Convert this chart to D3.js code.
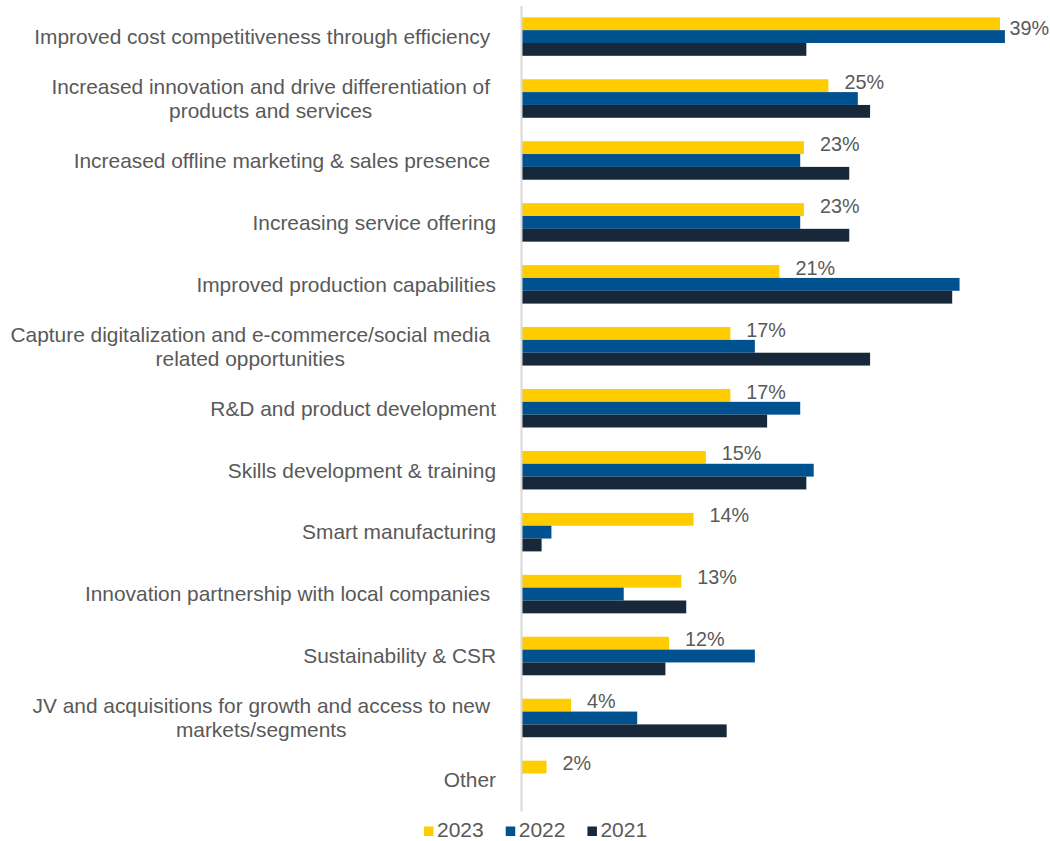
<!DOCTYPE html>
<html>
<head>
<meta charset="utf-8">
<script src="https://cdn.jsdelivr.net/npm/d3@7"></script>
<style>
  body { margin: 0; background: #fff; }
  text { font-family: "Liberation Sans", Arial, sans-serif; fill: #595959; white-space: pre; }
</style>
</head>
<body>
<svg id="chart" width="1050" height="841"></svg>
<script>
// Categories (multi-line labels split into lines)
const categories = [
  ["Improved cost competitiveness through efficiency "],
  ["Increased innovation and drive differentiation of", "products and services"],
  ["Increased offline marketing & sales presence "],
  ["Increasing service offering"],
  ["Improved production capabilities"],
  ["Capture digitalization and e-commerce/social media", "related opportunities"],
  ["R&D and product development"],
  ["Skills development & training"],
  ["Smart manufacturing"],
  ["Innovation partnership with local companies "],
  ["Sustainability & CSR"],
  ["JV and acquisitions for growth and access to new", "markets/segments"],
  ["Other"]
];

const seriesNames = ["2023", "2022", "2021"];

// Share of respondents (%)
const values2023 = [39, 25, 23, 23, 21, 17, 17, 15, 14, 13, 12, 4, 2];
const values2022 = [39.4, 27.4, 22.7, 22.7, 35.7, 19.0, 22.7, 23.8, 2.4, 8.3, 19.0, 9.4, null];
const values2021 = [23.2, 28.4, 26.7, 26.7, 35.1, 28.4, 20.0, 23.2, 1.6, 13.4, 11.7, 16.7, null];

// Only the latest year carries value labels
const valueLabels2023 = ["39%", "25%", "23%", "23%", "21%", "17%", "17%", "15%", "14%", "13%", "12%", "4%", "2%"];

const seriesValues = [values2023, values2022, values2021];
const colors = ["#FFCC00", "#00518F", "#17283A"];

const W = 1050, H = 841;
const svg = d3.select("#chart");

const x = d3.scaleLinear().domain([0, 39]).range([522, 1000]);
const pad = 0.3785;
const y = d3.scaleBand()
  .domain(d3.range(categories.length))
  .range([5.6, 810.9])
  .paddingInner(pad)
  .paddingOuter(pad / 2);
const ySub = d3.scaleBand().domain(seriesNames).range([0, y.bandwidth()]);

// Bars
const groups = svg.append("g").selectAll("g")
  .data(categories.map((c, i) => i))
  .join("g")
  .attr("transform", i => `translate(0,${y(i)})`);

groups.selectAll("rect")
  .data(i => seriesNames.map((s, k) => ({ s, k, v: seriesValues[k][i] })).filter(d => d.v != null))
  .join("rect")
  .attr("x", x(0))
  .attr("y", d => ySub(d.s))
  .attr("width", d => x(d.v) - x(0))
  .attr("height", ySub.bandwidth())
  .attr("fill", d => colors[d.k]);

// Vertical category axis line
const axis = svg.append("g")
  .attr("transform", `translate(${x(0) - 1},0)`)
  .call(d3.axisLeft(y).tickSize(0).tickFormat(""));
axis.select(".domain").attr("stroke", "#d9d9d9").attr("stroke-width", 2);

// Category labels
const catFont = 20.9;
const lineGap = 24;
const labelG = svg.append("g").attr("font-size", catFont);
categories.forEach((lines, i) => {
  const cy = y(i) + y.bandwidth() / 2;
  if (lines.length === 1) {
    labelG.append("text")
      .attr("x", 496)
      .attr("y", cy)
      .attr("dy", "0.35em")
      .attr("text-anchor", "end")
      .text(lines[0]);
  } else {
    const ts = lines.map((l, j) => labelG.append("text")
      .attr("y", cy + (j - (lines.length - 1) / 2) * lineGap)
      .attr("dy", "0.35em")
      .attr("text-anchor", "middle")
      .text(l));
    const maxW = d3.max(ts, t => t.node().getComputedTextLength());
    ts.forEach(t => t.attr("x", 490 - maxW / 2));
  }
});

// Value labels for 2023
const valG = svg.append("g").attr("font-size", 19.8);
values2023.forEach((v, i) => {
  const t = valG.append("text").text(valueLabels2023[i]);
  const w = t.node().getComputedTextLength();
  let lx = x(v) + 16;
  let ly = y(i) + ySub("2023") + 9.5;
  if (lx + w > W - 1) {
    lx = W - 1 - w;
    ly += 8.5;
  }
  t.attr("x", lx).attr("y", ly);
});

// Legend
const legend = svg.append("g").attr("font-size", 21);
let lx = 424;
seriesNames.forEach((s, k) => {
  legend.append("rect")
    .attr("x", lx).attr("y", 826.5)
    .attr("width", 9.5).attr("height", 9.5)
    .attr("fill", colors[k]);
  const t = legend.append("text")
    .attr("x", lx + 13).attr("y", 837)
    .text(s);
  lx += 13 + t.node().getComputedTextLength() + 22;
});
</script>
</body>
</html>
